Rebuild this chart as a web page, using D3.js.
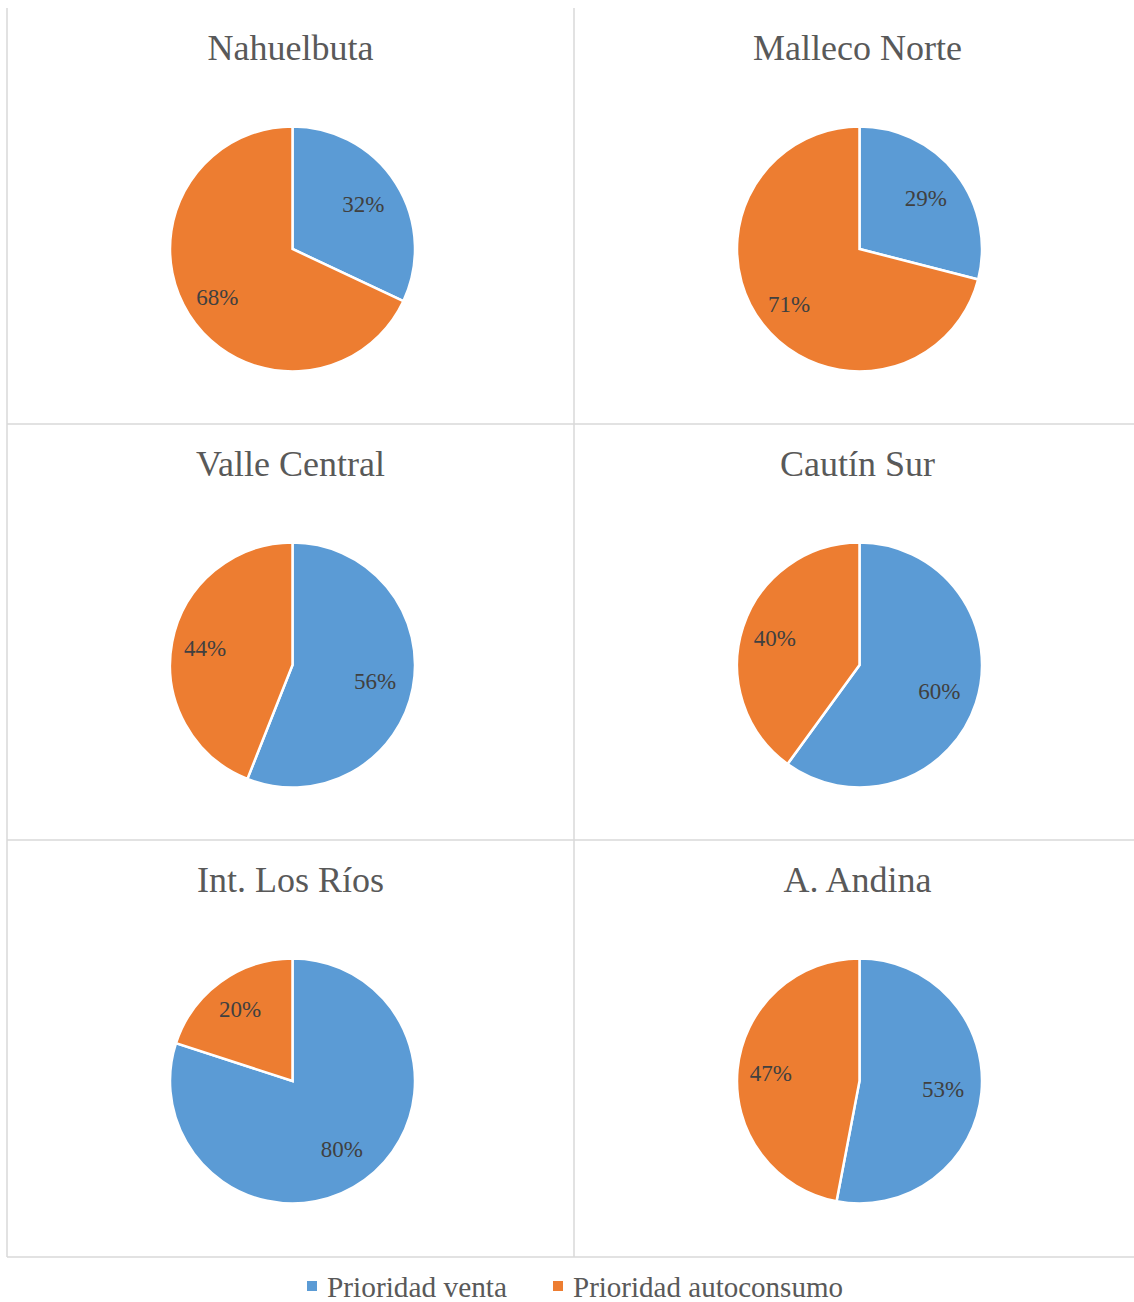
<!DOCTYPE html>
<html>
<head>
<meta charset="utf-8">
<script src="https://cdn.jsdelivr.net/npm/d3@7"></script>
</head>
<body style="margin:0">
<script>
// data
var regions = ["Nahuelbuta", "Malleco Norte", "Valle Central", "Cautín Sur", "Int. Los Ríos", "A. Andina"];
var venta = [32, 29, 56, 60, 80, 53];
var autoconsumo = [68, 71, 44, 40, 20, 47];
var seriesNames = ["Prioridad venta", "Prioridad autoconsumo"];
var colors = ["#5b9bd5", "#ed7d31"];

var width = 1134;
var height = 1302;
var serif = "Liberation Serif";
var svg = d3.select("body")
    .append("svg")
    .style("display", "block")
    .attr("width", width)
    .attr("height", height);

// grid of panels
var left = 7, top0 = 8, colW = 567, rowH = 416;
var x = d3.scaleBand().domain([0, 1]).range([left, left + 2 * colW]);
var y = d3.scaleBand().domain([0, 1, 2]).range([top0, top0 + 3 * rowH]);

var gridColor = "#d9d9d9";
var grid = svg.append("g").attr("stroke", gridColor).attr("stroke-width", 1.5);
grid.append("line").attr("x1", left).attr("x2", left).attr("y1", top0).attr("y2", y.range()[1] + 1);
grid.append("line").attr("x1", x(1)).attr("x2", x(1)).attr("y1", top0).attr("y2", y.range()[1] + 1);
[1, 2].forEach(function(r) {
    grid.append("line").attr("x1", left).attr("x2", width).attr("y1", y(r)).attr("y2", y(r));
});
grid.append("line").attr("x1", left).attr("x2", width)
    .attr("y1", y.range()[1] + 1).attr("y2", y.range()[1] + 1);

var radius = 122.5;
var pie = d3.pie().sort(null).value(function(d) { return d; });
var arc = d3.arc().innerRadius(0).outerRadius(radius);
// labels of the blue slice sit a bit closer to the centre than the orange ones
var labelArcs = [d3.arc().innerRadius(84).outerRadius(84), d3.arc().innerRadius(89).outerRadius(89)];

regions.forEach(function(name, i) {
    var col = i % 2, row = Math.floor(i / 2);
    var cx = x(col) + colW / 2;
    var g = svg.append("g").attr("transform", "translate(" + cx + "," + y(row) + ")");

    g.append("text")
        .attr("x", 0)
        .attr("y", 52)
        .attr("text-anchor", "middle")
        .style("font-family", serif)
        .style("font-size", "36px")
        .style("fill", "#595959")
        .text(name);

    var p = g.append("g").attr("transform", "translate(2,241)");
    var arcs = pie([venta[i], autoconsumo[i]]);

    p.selectAll("path")
        .data(arcs)
        .enter()
        .append("path")
        .attr("d", arc)
        .style("fill", function(d, j) { return colors[j]; })
        .style("stroke", "#fff")
        .style("stroke-width", 2.5);

    p.selectAll("text")
        .data(arcs)
        .enter()
        .append("text")
        .attr("transform", function(d, j) { return "translate(" + labelArcs[j].centroid(d) + ")"; })
        .attr("dy", "0.35em")
        .attr("text-anchor", "middle")
        .style("font-family", serif)
        .style("font-size", "23px")
        .style("fill", "#404040")
        .text(function(d) { return d.data + "%"; });
});

// legend
var legendX = [307, 553];
var legendW = [180, 270];
var legend = svg.selectAll(".legend")
    .data(seriesNames)
    .enter()
    .append("g")
    .attr("class", "legend")
    .attr("transform", function(d, i) { return "translate(" + legendX[i] + ",1281)"; });

legend.append("rect")
    .attr("width", 10)
    .attr("height", 10)
    .style("fill", function(d, i) { return colors[i]; });

legend.append("text")
    .attr("x", 20)
    .attr("y", 16)
    .attr("textLength", function(d, i) { return legendW[i]; })
    .attr("lengthAdjust", "spacingAndGlyphs")
    .style("font-family", serif)
    .style("font-size", "30px")
    .style("fill", "#595959")
    .text(function(d) { return d; });
</script>
</body>
</html>
